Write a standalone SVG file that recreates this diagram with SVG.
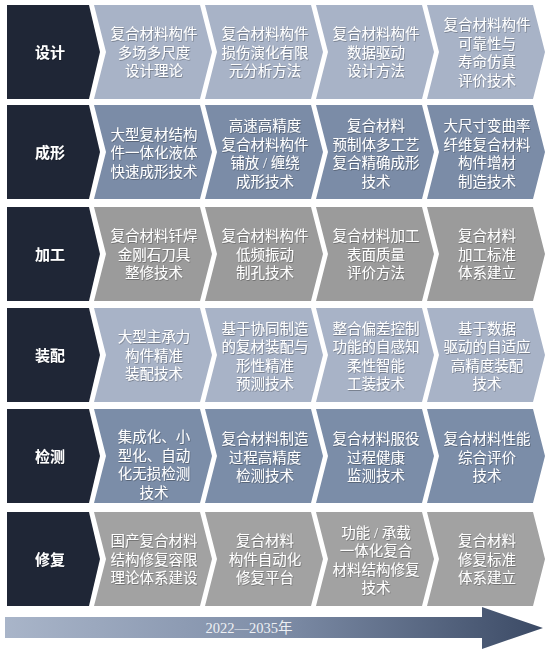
<svg xmlns="http://www.w3.org/2000/svg" width="550" height="653" viewBox="0 0 550 653">
<defs>
<linearGradient id="gArrow" gradientUnits="userSpaceOnUse" x1="5" y1="0" x2="543" y2="0">
<stop offset="0" stop-color="#a9b5c9"/>
<stop offset="0.5" stop-color="#7f8ea8"/>
<stop offset="1" stop-color="#3b4a65"/>
</linearGradient>
<filter id="sh" x="-10%" y="-10%" width="120%" height="130%">
<feDropShadow dx="0.6" dy="0.8" stdDeviation="0.5" flood-color="#000" flood-opacity="0.35"/>
</filter>
<style>
.dark{fill:#1f2636}
.r1{fill:#a8b3c7}
.r2{fill:#7b8ca7}
.r3{fill:#9b9b9b}
.r4{fill:#a8b3c7}
.r5{fill:#7b8da8}
.r6{fill:#a2a2a2}
text{font-family:"Liberation Serif","Noto Sans CJK SC",serif;fill:#ffffff;text-anchor:middle}
.t{font-size:14.5px;filter:url(#sh)}
.h{font-size:15px;font-weight:bold;filter:url(#sh)}
.yr{font-size:14.5px;fill:#eef0f4}
</style>
</defs>
<rect width="550" height="653" fill="#ffffff"/>

<!-- Row 1: 设计 -->
<g id="row-design">
<g id="design-label"><polygon class="dark" points="7,5 89,5 100,52 89,99 7,99"/><text class="h" x="50" y="57.5">设计</text></g>
<g id="design-1"><polygon class="r1" points="94,5 200,5 212,52 200,99 94,99 106,52"/><text class="t" x="154"><tspan x="154" y="39">复合材料构件</tspan><tspan x="154" y="57.5">多场多尺度</tspan><tspan x="154" y="76">设计理论</tspan></text></g>
<g id="design-2"><polygon class="r1" points="205,5 311,5 323,52 311,99 205,99 217,52"/><text class="t" x="265"><tspan x="265" y="39">复合材料构件</tspan><tspan x="265" y="57.5">损伤演化有限</tspan><tspan x="265" y="76">元分析方法</tspan></text></g>
<g id="design-3"><polygon class="r1" points="316,5 422,5 434,52 422,99 316,99 328,52"/><text class="t" x="376"><tspan x="376" y="39">复合材料构件</tspan><tspan x="376" y="57.5">数据驱动</tspan><tspan x="376" y="76">设计方法</tspan></text></g>
<g id="design-4"><polygon class="r1" points="427,5 533,5 545,52 533,99 427,99 439,52"/><text class="t" x="487"><tspan x="487" y="30">复合材料构件</tspan><tspan x="487" y="48.5">可靠性与</tspan><tspan x="487" y="67">寿命仿真</tspan><tspan x="487" y="85.5">评价技术</tspan></text></g>
</g>

<!-- Row 2: 成形 -->
<g id="row-forming">
<g id="forming-label"><polygon class="dark" points="7,105 89,105 100,152 89,199 7,199"/><text class="h" x="50" y="157.5">成形</text></g>
<g id="forming-1"><polygon class="r2" points="94,105 200,105 212,152 200,199 94,199 106,152"/><text class="t"><tspan x="154" y="139.5">大型复材结构</tspan><tspan x="154" y="158">件一体化液体</tspan><tspan x="154" y="176.5">快速成形技术</tspan></text></g>
<g id="forming-2"><polygon class="r2" points="205,105 311,105 323,152 311,199 205,199 217,152"/><text class="t"><tspan x="265" y="131">高速高精度</tspan><tspan x="265" y="149.5">复合材料构件</tspan><tspan x="265" y="168">铺放 / 缠绕</tspan><tspan x="265" y="186.5">成形技术</tspan></text></g>
<g id="forming-3"><polygon class="r2" points="316,105 422,105 434,152 422,199 316,199 328,152"/><text class="t"><tspan x="376" y="131">复合材料</tspan><tspan x="376" y="149.5">预制体多工艺</tspan><tspan x="376" y="168">复合精确成形</tspan><tspan x="376" y="186.5">技术</tspan></text></g>
<g id="forming-4"><polygon class="r2" points="427,105 533,105 545,152 533,199 427,199 439,152"/><text class="t"><tspan x="487" y="131">大尺寸变曲率</tspan><tspan x="487" y="149.5">纤维复合材料</tspan><tspan x="487" y="168">构件增材</tspan><tspan x="487" y="186.5">制造技术</tspan></text></g>
</g>

<!-- Row 3: 加工 -->
<g id="row-machining">
<g id="machining-label"><polygon class="dark" points="7,207 89,207 100,254 89,301 7,301"/><text class="h" x="50" y="259.5">加工</text></g>
<g id="machining-1"><polygon class="r3" points="94,207 200,207 212,254 200,301 94,301 106,254"/><text class="t"><tspan x="154" y="241">复合材料钎焊</tspan><tspan x="154" y="259.5">金刚石刀具</tspan><tspan x="154" y="278">整修技术</tspan></text></g>
<g id="machining-2"><polygon class="r3" points="205,207 311,207 323,254 311,301 205,301 217,254"/><text class="t"><tspan x="265" y="241">复合材料构件</tspan><tspan x="265" y="259.5">低频振动</tspan><tspan x="265" y="278">制孔技术</tspan></text></g>
<g id="machining-3"><polygon class="r3" points="316,207 422,207 434,254 422,301 316,301 328,254"/><text class="t"><tspan x="376" y="241">复合材料加工</tspan><tspan x="376" y="259.5">表面质量</tspan><tspan x="376" y="278">评价方法</tspan></text></g>
<g id="machining-4"><polygon class="r3" points="427,207 533,207 545,254 533,301 427,301 439,254"/><text class="t"><tspan x="487" y="241">复合材料</tspan><tspan x="487" y="259.5">加工标准</tspan><tspan x="487" y="278">体系建立</tspan></text></g>
</g>

<!-- Row 4: 装配 -->
<g id="row-assembly">
<g id="assembly-label"><polygon class="dark" points="7,308 89,308 100,355 89,402 7,402"/><text class="h" x="50" y="360.5">装配</text></g>
<g id="assembly-1"><polygon class="r4" points="94,308 200,308 212,355 200,402 94,402 106,355"/><text class="t"><tspan x="154" y="342">大型主承力</tspan><tspan x="154" y="360.5">构件精准</tspan><tspan x="154" y="379">装配技术</tspan></text></g>
<g id="assembly-2"><polygon class="r4" points="205,308 311,308 323,355 311,402 205,402 217,355"/><text class="t"><tspan x="265" y="333.5">基于协同制造</tspan><tspan x="265" y="352">的复材装配与</tspan><tspan x="265" y="370.5">形性精准</tspan><tspan x="265" y="389">预测技术</tspan></text></g>
<g id="assembly-3"><polygon class="r4" points="316,308 422,308 434,355 422,402 316,402 328,355"/><text class="t"><tspan x="376" y="333.5">整合偏差控制</tspan><tspan x="376" y="352">功能的自感知</tspan><tspan x="376" y="370.5">柔性智能</tspan><tspan x="376" y="389">工装技术</tspan></text></g>
<g id="assembly-4"><polygon class="r4" points="427,308 533,308 545,355 533,402 427,402 439,355"/><text class="t"><tspan x="487" y="333.5">基于数据</tspan><tspan x="487" y="352">驱动的自适应</tspan><tspan x="487" y="370.5">高精度装配</tspan><tspan x="487" y="389">技术</tspan></text></g>
</g>

<!-- Row 5: 检测 -->
<g id="row-inspection">
<g id="inspection-label"><polygon class="dark" points="7,409 89,409 100,456 89,503 7,503"/><text class="h" x="50" y="461.5">检测</text></g>
<g id="inspection-1"><polygon class="r5" points="94,409 200,409 212,456 200,503 94,503 106,456"/><text class="t"><tspan x="154" y="442">集成化、小</tspan><tspan x="154" y="460.5">型化、自动</tspan><tspan x="154" y="479">化无损检测</tspan><tspan x="154" y="497.5">技术</tspan></text></g>
<g id="inspection-2"><polygon class="r5" points="205,409 311,409 323,456 311,503 205,503 217,456"/><text class="t"><tspan x="265" y="444">复合材料制造</tspan><tspan x="265" y="462.5">过程高精度</tspan><tspan x="265" y="481">检测技术</tspan></text></g>
<g id="inspection-3"><polygon class="r5" points="316,409 422,409 434,456 422,503 316,503 328,456"/><text class="t"><tspan x="376" y="444">复合材料服役</tspan><tspan x="376" y="462.5">过程健康</tspan><tspan x="376" y="481">监测技术</tspan></text></g>
<g id="inspection-4"><polygon class="r5" points="427,409 533,409 545,456 533,503 427,503 439,456"/><text class="t"><tspan x="487" y="444">复合材料性能</tspan><tspan x="487" y="462.5">综合评价</tspan><tspan x="487" y="481">技术</tspan></text></g>
</g>

<!-- Row 6: 修复 -->
<g id="row-repair">
<g id="repair-label"><polygon class="dark" points="7,512 89,512 100,559 89,606 7,606"/><text class="h" x="50" y="564.5">修复</text></g>
<g id="repair-1"><polygon class="r6" points="94,512 200,512 212,559 200,606 94,606 106,559"/><text class="t"><tspan x="154" y="546">国产复合材料</tspan><tspan x="154" y="564.5">结构修复容限</tspan><tspan x="154" y="583">理论体系建设</tspan></text></g>
<g id="repair-2"><polygon class="r6" points="205,512 311,512 323,559 311,606 205,606 217,559"/><text class="t"><tspan x="265" y="546">复合材料</tspan><tspan x="265" y="564.5">构件自动化</tspan><tspan x="265" y="583">修复平台</tspan></text></g>
<g id="repair-3"><polygon class="r6" points="316,512 422,512 434,559 422,606 316,606 328,559"/><text class="t"><tspan x="376" y="537.5">功能 / 承载</tspan><tspan x="376" y="556">一体化复合</tspan><tspan x="376" y="574.5">材料结构修复</tspan><tspan x="376" y="593">技术</tspan></text></g>
<g id="repair-4"><polygon class="r6" points="427,512 533,512 545,559 533,606 427,606 439,559"/><text class="t"><tspan x="487" y="546">复合材料</tspan><tspan x="487" y="564.5">修复标准</tspan><tspan x="487" y="583">体系建立</tspan></text></g>
</g>

<!-- Timeline arrow -->
<g id="connectors">
<path id="timeline" d="M5,617 L482,617 L482,607 L543,628 L482,649 L482,638 L5,638 Z" fill="url(#gArrow)"/>
<text class="yr" x="249" y="633">2022—2035年</text>
</g>
</svg>
